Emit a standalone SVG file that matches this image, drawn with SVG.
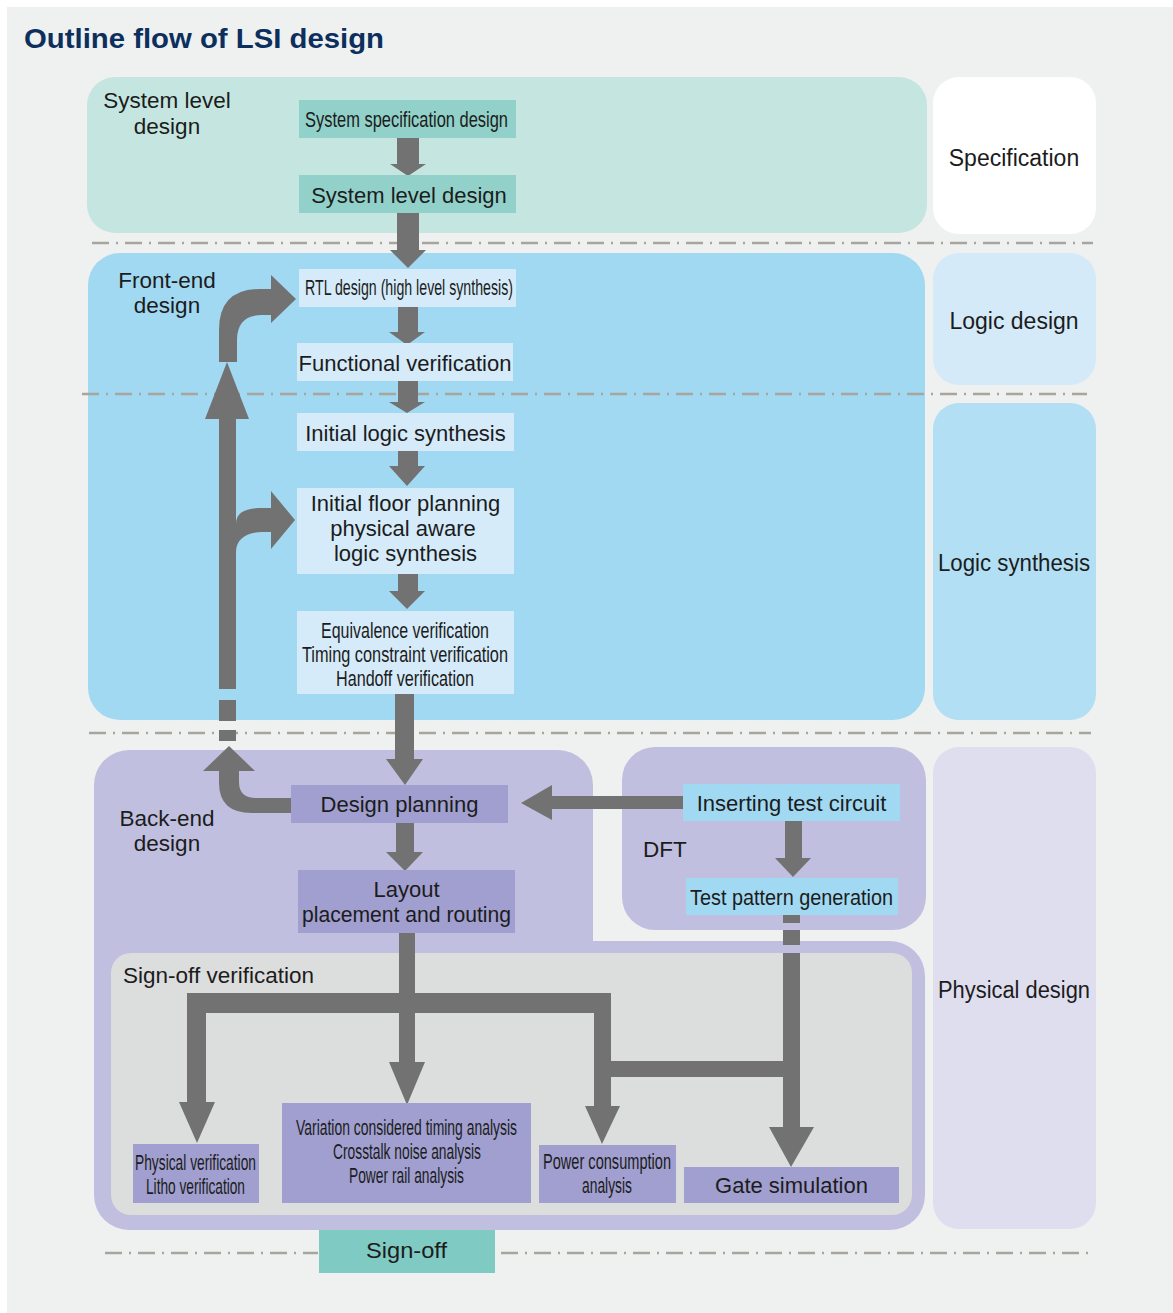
<svg xmlns="http://www.w3.org/2000/svg" width="1173" height="1313" viewBox="0 0 1173 1313">
<style>
text{font-family:"Liberation Sans",Arial,Helvetica,sans-serif;fill:#1c1c1c}
.L{font-size:22px;text-anchor:middle}
.C{font-size:22px;text-anchor:middle}
.R{font-size:22.5px;text-anchor:middle}
.P{font-size:23px;text-anchor:middle}
.dash{stroke:#a8a59d;stroke-width:2.5;stroke-dasharray:17 7 2 7;fill:none}
.arr{fill:#727272}
.teal{fill:#92d1c9}
.lb{fill:#d5ebf9}
.pb{fill:#a09fcf}
.cb{fill:#a2d9f2}
</style>
<rect x="0" y="0" width="1173" height="1313" fill="#ffffff"/>
<rect x="7" y="7" width="1166" height="1306" fill="#eff1f0"/>
<text x="24" y="48" style="font-size:28px;font-weight:bold;fill:#0c2f5e" textLength="360" lengthAdjust="spacingAndGlyphs">Outline flow of LSI design</text>

<!-- regions -->
<g id="region-system">
<rect x="87" y="77" width="840" height="156" rx="28" fill="#c5e6e0"/>
<text class="R" x="167" y="108">System level</text>
<text class="R" x="167" y="134">design</text>
</g>
<g id="region-frontend">
<rect x="88" y="253" width="837" height="467" rx="32" fill="#a2d9f2"/>
<text class="R" x="167" y="288">Front-end</text>
<text class="R" x="167" y="313">design</text>
</g>
<g id="region-backend">
<path d="M129,750 H558 A35,35 0 0 1 593,785 V941 H890 A35,35 0 0 1 925,976 V1195 A35,35 0 0 1 890,1230 H129 A35,35 0 0 1 94,1195 V785 A35,35 0 0 1 129,750 Z" fill="#c0bfdf"/>
<text class="R" x="167" y="826">Back-end</text>
<text class="R" x="167" y="851">design</text>
</g>
<g id="region-dft">
<rect x="622" y="747" width="304" height="183" rx="33" fill="#c0bfdf"/>
<text x="643" y="857" style="font-size:22.5px">DFT</text>
</g>
<g id="region-signoff">
<rect x="111" y="953" width="801" height="262" rx="20" fill="#dcdedd"/>
<text x="123" y="983" style="font-size:22.5px">Sign-off verification</text>
</g>

<!-- phase labels -->
<g id="phase-specification">
<rect x="933" y="77" width="163" height="157" rx="26" fill="#ffffff"/>
<text class="P" x="1014" y="166">Specification</text>
</g>
<g id="phase-logic-design">
<rect x="933" y="253" width="163" height="132" rx="26" fill="#d4eaf8"/>
<text class="P" x="1014" y="329">Logic design</text>
</g>
<g id="phase-logic-synthesis">
<rect x="933" y="403" width="163" height="317" rx="26" fill="#b2dff4"/>
<text class="P" x="1014" y="571" textLength="152" lengthAdjust="spacingAndGlyphs">Logic synthesis</text>
</g>
<g id="phase-physical-design">
<rect x="933" y="747" width="163" height="482" rx="26" fill="#dfdeef"/>
<text class="P" x="1014" y="998" textLength="152" lengthAdjust="spacingAndGlyphs">Physical design</text>
</g>

<!-- separators -->
<g id="separators">
<line class="dash" x1="92" y1="243" x2="1093" y2="243"/>
<line class="dash" x1="82" y1="394" x2="1087" y2="394"/>
<line class="dash" x1="89" y1="733" x2="1091" y2="733"/>
<line class="dash" x1="105" y1="1253" x2="318" y2="1253"/>
<line class="dash" x1="501" y1="1253" x2="1090" y2="1253"/>
</g>

<!-- connectors -->
<g id="connectors" class="arr">
<polygon points="397,138 419,138 419,164 426,164 408,176 390,164 397,164"/>
<polygon points="397,212 419,212 419,250 426,250 408,268 390,250 397,250"/>
<polygon points="398,306 418,306 418,332 425,332 407,345 389,332 398,332"/>
<polygon points="398,380 418,380 418,402 425,402 407,413 389,402 398,402"/>
<polygon points="398,450 418,450 418,466 425,466 407,486 389,466 398,466"/>
<polygon points="398,573 418,573 418,591 425,591 407,609 389,591 398,591"/>
<polygon points="395,693 414,693 414,759 423,759 405,785 386,759 395,759"/>
<polygon points="396,822 414,822 414,852 423,852 405,871 386,852 396,852"/>
<polygon points="785,820 802,820 802,858 811,858 793,877 775,858 785,858"/>
<polygon points="684,796 684,809 552,809 552,820 521,803 552,785 552,796"/>
<!-- feedback path -->
<polygon points="219,689 236,689 236,419 249,419 227,362 205,419 219,419"/>
<rect x="219" y="700" width="17" height="21"/>
<rect x="219" y="730" width="17" height="11"/>
<path d="M219,770 L219,783 Q219,813 252,813 L292,813 L292,798 L256,798 Q239,798 239,782 L239,770 Z"/>
<polygon points="203,771 255,771 229,746"/>
<path d="M219,362 L219,330 Q219,289 260,289 L271,289 L271,275 L296,299 L271,323 L271,315 L262,315 Q237,315 237,340 L237,362 Z"/>
<path d="M236,524 C236,512 246,508 262,508 L271,508 L271,491 L295,520 L271,549 L271,532 L262,532 C248,532 236,538 236,552 Z"/>
<!-- sign-off tree -->
<polygon points="399,932 415,932 415,1062 425,1062 407,1105 389,1062 399,1062"/>
<rect x="187" y="993" width="424" height="20"/>
<polygon points="187,993 206,993 206,1102 215,1102 197,1143 179,1102 187,1102"/>
<polygon points="594,993 611,993 611,1106 620,1106 602,1144 585,1106 594,1106"/>
<rect x="611" y="1061" width="189" height="16"/>
<polygon points="783,953 800,953 800,1127 814,1127 791,1167 769,1127 783,1127"/>
<rect x="783" y="915" width="17" height="8"/>
<rect x="783" y="930" width="17" height="15"/>
</g>

<!-- nodes -->
<g id="n-sysspec">
<rect class="teal" x="299" y="100" width="217" height="38"/>
<text class="C" x="406.5" y="127" textLength="203" lengthAdjust="spacingAndGlyphs">System specification design</text>
</g>
<g id="n-syslevel">
<rect class="teal" x="299" y="175" width="217" height="38"/>
<text class="L" x="409" y="203">System level design</text>
</g>
<g id="n-rtl">
<rect class="lb" x="299" y="269" width="217" height="38"/>
<text class="C" x="409" y="295" textLength="208" lengthAdjust="spacingAndGlyphs">RTL design (high level synthesis)</text>
</g>
<g id="n-funcver">
<rect class="lb" x="297" y="343" width="216" height="38"/>
<text class="L" x="405" y="371">Functional verification</text>
</g>
<g id="n-initlogic">
<rect class="lb" x="297" y="413" width="217" height="38"/>
<text class="L" x="405.5" y="441">Initial logic synthesis</text>
</g>
<g id="n-floorplan">
<rect class="lb" x="297" y="488" width="217" height="86"/>
<text class="L" x="405.5" y="511">Initial floor planning</text>
<text class="L" x="403" y="536">physical aware</text>
<text class="L" x="405.5" y="561">logic synthesis</text>
</g>
<g id="n-equiv">
<rect class="lb" x="297" y="611" width="217" height="83"/>
<text class="C" x="405" y="638" textLength="168" lengthAdjust="spacingAndGlyphs">Equivalence verification</text>
<text class="C" x="405" y="662" textLength="206" lengthAdjust="spacingAndGlyphs">Timing constraint verification</text>
<text class="C" x="405" y="686" textLength="138" lengthAdjust="spacingAndGlyphs">Handoff verification</text>
</g>
<g id="n-designplan">
<rect class="pb" x="291" y="785" width="217" height="38"/>
<text class="L" x="399.5" y="812">Design planning</text>
</g>
<g id="n-layout">
<rect class="pb" x="298" y="870" width="217" height="63"/>
<text class="L" x="406.5" y="897">Layout</text>
<text class="L" x="406.5" y="922" textLength="209" lengthAdjust="spacingAndGlyphs">placement and routing</text>
</g>
<g id="n-insert">
<rect class="cb" x="683" y="784" width="217" height="37"/>
<text class="L" x="791.5" y="811">Inserting test circuit</text>
</g>
<g id="n-testpattern">
<rect class="cb" x="686" y="878" width="212" height="37"/>
<text class="L" x="791.5" y="905" textLength="203" lengthAdjust="spacingAndGlyphs">Test pattern generation</text>
</g>
<g id="n-physver">
<rect class="pb" x="133" y="1144" width="126" height="59"/>
<text class="C" x="195.5" y="1170" textLength="121" lengthAdjust="spacingAndGlyphs">Physical verification</text>
<text class="C" x="195.5" y="1194" textLength="99" lengthAdjust="spacingAndGlyphs">Litho verification</text>
</g>
<g id="n-variation">
<rect class="pb" x="282" y="1103" width="249" height="100"/>
<text class="C" x="406.5" y="1135" textLength="221" lengthAdjust="spacingAndGlyphs">Variation considered timing analysis</text>
<text class="C" x="407" y="1159" textLength="148" lengthAdjust="spacingAndGlyphs">Crosstalk noise analysis</text>
<text class="C" x="406.5" y="1183" textLength="115" lengthAdjust="spacingAndGlyphs">Power rail analysis</text>
</g>
<g id="n-power">
<rect class="pb" x="539" y="1145" width="137" height="58"/>
<text class="C" x="607" y="1169" textLength="128" lengthAdjust="spacingAndGlyphs">Power consumption</text>
<text class="C" x="607" y="1193" textLength="50" lengthAdjust="spacingAndGlyphs">analysis</text>
</g>
<g id="n-gatesim">
<rect class="pb" x="684" y="1167" width="215" height="36"/>
<text class="L" x="791.5" y="1193">Gate simulation</text>
</g>
<g id="n-signoff">
<rect x="319" y="1230" width="176" height="43" fill="#80cac4"/>
<text class="C" x="406.5" y="1258" textLength="81" lengthAdjust="spacingAndGlyphs">Sign-off</text>
</g>
</svg>
